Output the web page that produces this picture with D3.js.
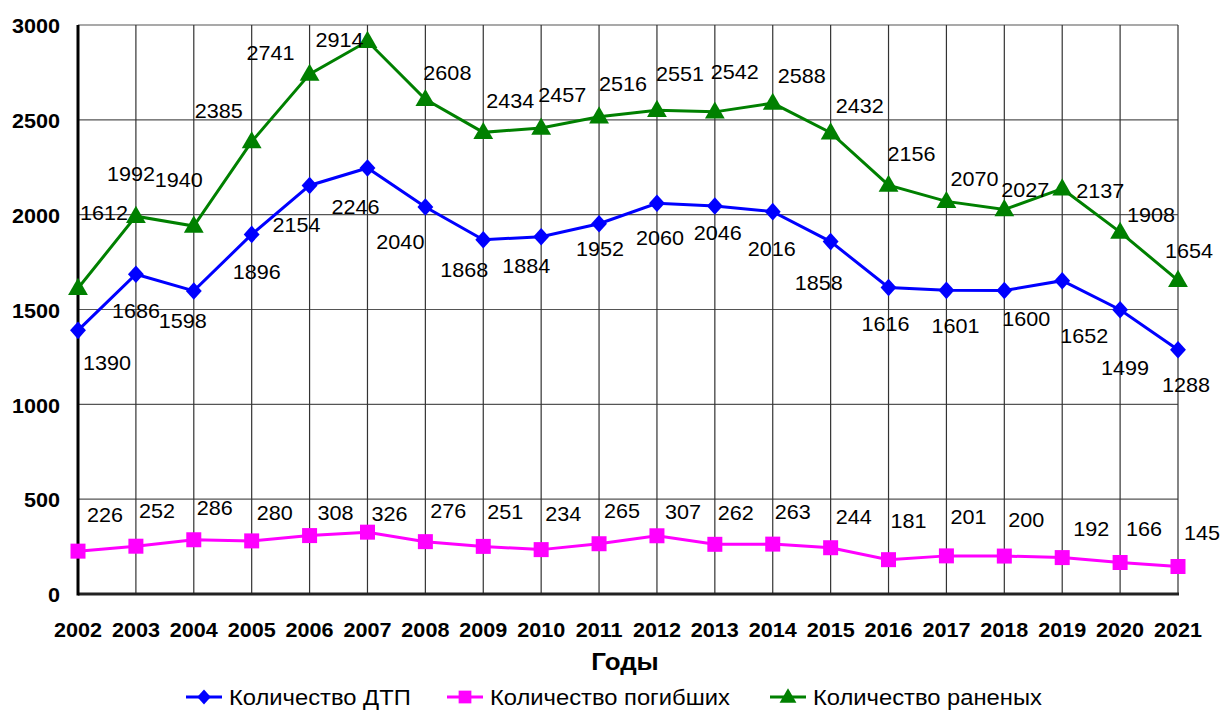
<!DOCTYPE html>
<html>
<head>
<meta charset="utf-8">
<script src="https://cdn.jsdelivr.net/npm/d3@7"></script>
<style>
  body { margin: 0; background: #fff; }
  text { font-family: "Liberation Sans", Arial, sans-serif; fill: #000; }
</style>
</head>
<body>
<script>
// chart data
const years = [2002, 2003, 2004, 2005, 2006, 2007, 2008, 2009, 2010, 2011,
               2012, 2013, 2014, 2015, 2016, 2017, 2018, 2019, 2020, 2021];
const dtp     = [1390, 1686, 1598, 1896, 2154, 2246, 2040, 1868, 1884, 1952,
                 2060, 2046, 2016, 1858, 1616, 1601, 1600, 1652, 1499, 1288];
const killed  = [226, 252, 286, 280, 308, 326, 276, 251, 234, 265,
                 307, 262, 263, 244, 181, 201, 200, 192, 166, 145];
const injured = [1612, 1992, 1940, 2385, 2741, 2914, 2608, 2434, 2457, 2516,
                 2551, 2542, 2588, 2432, 2156, 2070, 2027, 2137, 1908, 1654];
const yTicks = [0, 500, 1000, 1500, 2000, 2500, 3000];
const seriesNames = ["Количество ДТП", "Количество погибших", "Количество раненых"];

// hand-placed data label nudges (left edge / middle of text, relative to point)
const dtpLabelOff = [[5,32],[-24,37],[-35,30],[-19,37],[-37,39],[-36,39],[-49,35],[-43,30],[-39,29],[-23,25],
                     [-21,35],[-21,27],[-25,37],[-36,41],[-27,36],[-15,35],[-2,28],[-2,55],[-19,58],[-16,35]];
const killedLabelOff = [[9,-36],[3,-35],[3,-32],[5,-28],[8,-23],[4,-18],[5,-31],[4,-35],[4,-36],[5,-33],
                        [8,-24],[3,-32],[2,-32],[5,-31],[2,-39],[4,-39],[4,-36],[11,-29],[6,-34],[6,-34]];
const injuredLabelOff = [[2,-75],[-29,-42],[-39,-46],[-57,-31],[-63,-21],[-52,-2],[-2,-27],[3,-32],[-3,-33],[0,-33],
                         [-1,-36],[-4,-40],[5,-27],[5,-27],[-1,-31],[4,-23],[-3,-20],[14,2],[7,-17],[-13,-29]];

const W = 1221, H = 711;
const SX = 1.08; // text in the original is slightly wide

const svg = d3.select("body").append("svg")
  .attr("width", W).attr("height", H);

const x = d3.scalePoint().domain(years).range([78, 1178]);
const y = d3.scaleLinear().domain([0, 3000]).range([594, 25]);

function addText(g, tx, ty, str, size, weight, anchor) {
  return g.append("text")
    .attr("transform", `translate(${tx},${ty}) scale(${SX},1)`)
    .attr("text-anchor", anchor || "start")
    .attr("dominant-baseline", "central")
    .style("font-size", size + "px")
    .style("font-weight", weight || "normal")
    .text(str);
}

// grid
const grid = svg.append("g");
grid.selectAll("line.h").data(yTicks.filter(d => d > 0)).enter().append("line")
  .attr("x1", x(2002)).attr("x2", x(2021))
  .attr("y1", d => y(d)).attr("y2", d => y(d))
  .attr("stroke", "#555").attr("stroke-width", 1.2);
grid.selectAll("line.v").data(years.slice(1)).enter().append("line")
  .attr("x1", d => x(d)).attr("x2", d => x(d))
  .attr("y1", y(3000)).attr("y2", y(0))
  .attr("stroke", "#333").attr("stroke-width", 1.2);

// axes lines
svg.append("line").attr("x1", x(2002)).attr("x2", x(2021) + 1)
  .attr("y1", y(0)).attr("y2", y(0)).attr("stroke", "#222").attr("stroke-width", 3);
svg.append("line").attr("x1", x(2002)).attr("x2", x(2002))
  .attr("y1", y(3000)).attr("y2", y(0) + 1.5).attr("stroke", "#000").attr("stroke-width", 3);

// tick labels
const ticks = svg.append("g");
yTicks.forEach(t => addText(ticks, 60, y(t) + 1, t, 20, "bold", "end"));
years.forEach(yr => addText(ticks, x(yr), 630, yr, 20, "bold", "middle"));
addText(ticks, 625, 661, "Годы", 24, "bold", "middle");

// series
const series = [
  { name: seriesNames[0], values: dtp, color: "#0000ff", shape: d3.symbolSquare, size: 140, rot: true, off: dtpLabelOff },
  { name: seriesNames[1], values: killed, color: "#ff00ff", shape: d3.symbolSquare, size: 225, off: killedLabelOff },
  { name: seriesNames[2], values: injured, color: "#008000", shape: d3.symbolTriangle, size: 170, off: injuredLabelOff }
];

function markerTransform(s, px, py, k) {
  if (s.rot) return `translate(${px},${py}) scale(${0.95 * k},${1.05 * k}) rotate(45)`;
  if (s.shape === d3.symbolTriangle) return `translate(${px},${py + 1}) scale(${k})`;
  return `translate(${px},${py}) scale(${k})`;
}

const line = d3.line().x((d, i) => x(years[i])).y(d => y(d));

series.forEach(s => {
  const g = svg.append("g");
  g.append("path").datum(s.values)
    .attr("d", line).attr("fill", "none")
    .attr("stroke", s.color).attr("stroke-width", 3);
  g.selectAll("path.m").data(s.values).enter().append("path")
    .attr("d", d3.symbol().type(s.shape).size(s.size))
    .attr("transform", (d, i) => markerTransform(s, x(years[i]), y(d), 1))
    .attr("fill", s.color);
  s.values.forEach((v, i) => {
    addText(g, x(years[i]) + s.off[i][0], y(v) + s.off[i][1], v, 20, "normal", "start");
  });
});

// legend
const legX = [186, 447, 770];
const leg = svg.append("g");
series.forEach((s, i) => {
  const ly = 697;
  leg.append("line").attr("x1", legX[i]).attr("x2", legX[i] + 36)
    .attr("y1", ly).attr("y2", ly).attr("stroke", s.color).attr("stroke-width", 3);
  leg.append("path")
    .attr("d", d3.symbol().type(s.shape).size(s.size))
    .attr("transform", markerTransform(s, legX[i] + 18, ly, 0.85))
    .attr("fill", s.color);
  addText(leg, legX[i] + 43, ly, s.name, 22, "normal", "start");
});
</script>
</body>
</html>
